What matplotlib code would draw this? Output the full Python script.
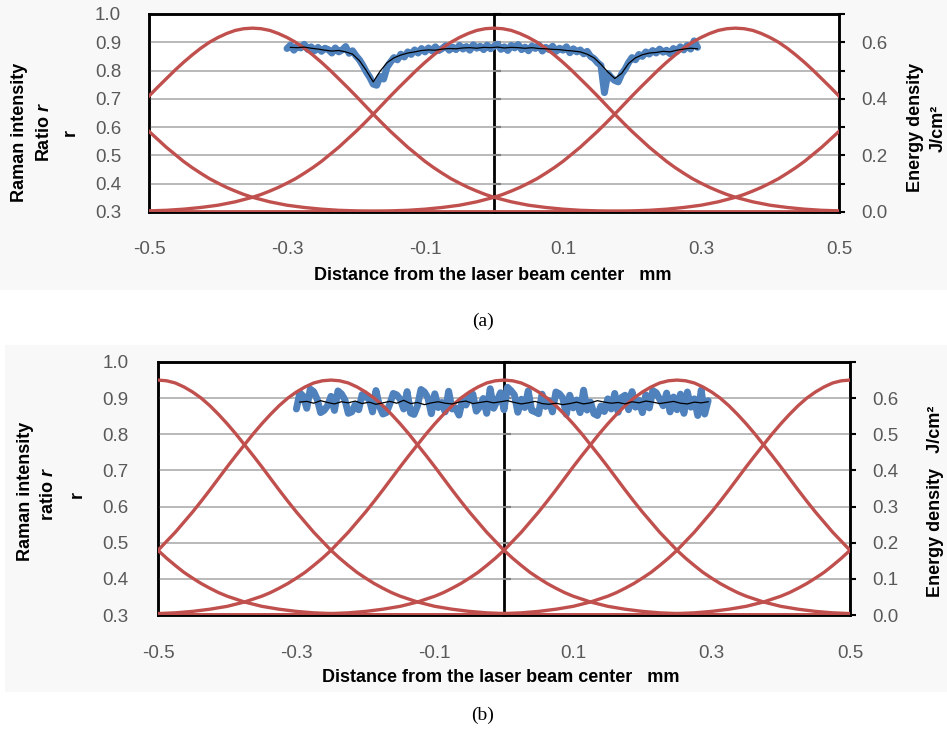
import numpy as np
import matplotlib
matplotlib.use("Agg")
import matplotlib.pyplot as plt
from matplotlib.patches import Rectangle

plt.rcParams['font.family'] = ['Liberation Sans', 'DejaVu Sans']
plt.rcParams['mathtext.fontset'] = 'custom'
plt.rcParams['mathtext.it'] = 'Liberation Sans:italic:bold'

W, H = 947, 736

# laser pulse profile (energy density J/cm2 vs distance from pulse centre, mm)
profile_dx = [0, 0.0125, 0.025, 0.0375, 0.05, 0.0625, 0.075, 0.0875, 0.1, 0.1125,
              0.125, 0.1375, 0.15, 0.1625, 0.175, 0.1875, 0.2, 0.2125, 0.225, 0.2375,
              0.25, 0.2625, 0.275, 0.2875, 0.3, 0.3125, 0.325, 0.3375, 0.35, 0.3625,
              0.375, 0.3875, 0.4, 0.425, 0.45, 0.475, 0.5, 0.55, 0.6, 0.8, 1.3]
profile_e = [0.650, 0.648, 0.642, 0.631, 0.617, 0.600, 0.579, 0.555, 0.529, 0.501,
             0.471, 0.441, 0.410, 0.378, 0.346, 0.315, 0.285, 0.257, 0.229, 0.204,
             0.179, 0.157, 0.137, 0.118, 0.102, 0.087, 0.074, 0.062, 0.052, 0.044,
             0.036, 0.030, 0.024, 0.016, 0.010, 0.006, 0.004, 0.0013, 0.0004, 0.0, 0.0]

centers_a = [-0.7, -0.35, 0.0, 0.35, 0.7]
centers_b = [-0.75, -0.5, -0.25, 0.0, 0.25, 0.5, 0.75]

# raman ratio, raw (blue) every 0.005 mm and averaged (black) every 0.01 mm
x_raw = np.round(np.arange(-0.300, 0.2951, 0.005), 3)
x_avg = np.round(np.arange(-0.295, 0.2951, 0.01), 3)

raw_a = [0.878, 0.890, 0.872, 0.886, 0.880, 0.893, 0.875, 0.884, 0.870, 0.882,
         0.868, 0.879, 0.874, 0.862, 0.880, 0.866, 0.873, 0.885, 0.861, 0.870,
         0.852, 0.838, 0.818, 0.795, 0.776, 0.752, 0.748, 0.779, 0.770, 0.812,
         0.830, 0.846, 0.838, 0.858, 0.848, 0.866, 0.857, 0.873, 0.862, 0.878,
         0.866, 0.880, 0.870, 0.884, 0.871, 0.878, 0.888, 0.872, 0.883, 0.874,
         0.889, 0.876, 0.885, 0.872, 0.891, 0.879, 0.886, 0.874, 0.890, 0.877,
         0.886, 0.893, 0.875, 0.884, 0.871, 0.889, 0.880, 0.892, 0.874, 0.883,
         0.870, 0.887, 0.878, 0.891, 0.869, 0.882, 0.874, 0.886, 0.868, 0.879,
         0.872, 0.884, 0.863, 0.877, 0.866, 0.873, 0.859, 0.868, 0.850, 0.842,
         0.828, 0.818, 0.722, 0.790, 0.775, 0.765, 0.760, 0.788, 0.805, 0.828,
         0.846, 0.838, 0.857, 0.850, 0.866, 0.858, 0.871, 0.862, 0.876, 0.865,
         0.872, 0.860, 0.878, 0.868, 0.884, 0.873, 0.889, 0.876, 0.905, 0.882]

avg_a = [0.882, 0.881, 0.883, 0.879, 0.876, 0.872, 0.869, 0.871, 0.866, 0.858,
         0.835, 0.800, 0.760, 0.798, 0.828, 0.845, 0.855, 0.862, 0.866, 0.871,
         0.873, 0.872, 0.876, 0.878, 0.877, 0.880, 0.881, 0.879, 0.882, 0.881,
         0.883, 0.880, 0.882, 0.881, 0.879, 0.881, 0.878, 0.877, 0.875, 0.874,
         0.871, 0.869, 0.866, 0.858, 0.845, 0.822, 0.795, 0.772, 0.790, 0.825,
         0.845, 0.856, 0.862, 0.864, 0.868, 0.866, 0.872, 0.876, 0.879, 0.877]

raw_b = [0.870, 0.915, 0.905, 0.872, 0.925, 0.918, 0.897, 0.860, 0.866, 0.879,
         0.905, 0.866, 0.920, 0.912, 0.896, 0.858, 0.862, 0.882, 0.868, 0.910,
         0.903, 0.899, 0.862, 0.921, 0.878, 0.856, 0.860, 0.884, 0.913, 0.909,
         0.897, 0.870, 0.918, 0.859, 0.855, 0.879, 0.924, 0.917, 0.901, 0.857,
         0.912, 0.874, 0.888, 0.862, 0.919, 0.870, 0.873, 0.853, 0.895, 0.881,
         0.907, 0.911, 0.864, 0.876, 0.899, 0.858, 0.926, 0.872, 0.893, 0.915,
         0.868, 0.930, 0.921, 0.909, 0.861, 0.897, 0.874, 0.920, 0.866, 0.862,
         0.857, 0.911, 0.877, 0.893, 0.862, 0.917, 0.912, 0.900, 0.855, 0.908,
         0.873, 0.895, 0.860, 0.922, 0.867, 0.889, 0.857, 0.852, 0.878, 0.863,
         0.898, 0.870, 0.913, 0.861, 0.902, 0.908, 0.868, 0.918, 0.875, 0.894,
         0.860, 0.909, 0.873, 0.921, 0.915, 0.897, 0.879, 0.914, 0.862, 0.903,
         0.868, 0.911, 0.858, 0.917, 0.875, 0.898, 0.852, 0.922, 0.856, 0.893]

avg_b = [0.889, 0.891, 0.886, 0.893, 0.888, 0.884, 0.890, 0.887, 0.892, 0.885,
         0.889, 0.883, 0.887, 0.891, 0.886, 0.894, 0.885, 0.888, 0.882, 0.887,
         0.890, 0.886, 0.884, 0.889, 0.892, 0.885, 0.888, 0.891, 0.887, 0.890,
         0.893, 0.888, 0.884, 0.887, 0.891, 0.885, 0.883, 0.886, 0.882, 0.885,
         0.889, 0.884, 0.887, 0.893, 0.889, 0.886, 0.888, 0.884, 0.890, 0.887,
         0.892, 0.889, 0.885, 0.888, 0.891, 0.886, 0.884, 0.889, 0.887, 0.890]

x_ticks = [-0.5, -0.3, -0.1, 0.1, 0.3, 0.5]
left_ticks = [0.3, 0.4, 0.5, 0.6, 0.7, 0.8, 0.9, 1.0]
right_ticks = [0.0, 0.1, 0.2, 0.3, 0.4, 0.5, 0.6, 0.7]
right_labels_a = ['0.0', '', '0.2', '', '0.4', '', '0.6', '']
right_labels_b = ['0.0', '0.1', '0.2', '0.3', '0.4', '0.5', '0.6', '']

BLUE = '#4F81BD'
RED = '#C0504D'
GREY = '#595959'

dx_full = np.concatenate([-np.array(profile_dx[::-1]), np.array(profile_dx[1:])])
e_full = np.concatenate([np.array(profile_e[::-1]), np.array(profile_e[1:])])


def fx(px):
    return px / W


def fy(py):
    return 1 - py / H


fig = plt.figure(figsize=(W / 100, H / 100), dpi=100)

# light chart-area backgrounds
fig.patches.append(Rectangle((fx(0), fy(290)), 1, 290 / H, transform=fig.transFigure,
                             facecolor='#F8F8F8', edgecolor='none', zorder=-5))
fig.patches.append(Rectangle((fx(5), fy(692)), 1, (692 - 345) / H, transform=fig.transFigure,
                             facecolor='#F8F8F8', edgecolor='none', zorder=-5))


def panel(left, top, right, bottom, raw, avg, centers, right_labels, lpad, rpad, xpad):
    ax = fig.add_axes([fx(left), fy(bottom), (right - left) / W, (bottom - top) / H])
    ax2 = ax.twinx()
    ax.set_zorder(ax2.get_zorder() + 1)
    ax.patch.set_visible(False)
    ax2.patch.set_visible(True)
    ax2.patch.set_facecolor('white')

    for c in centers:
        ax.plot(c + dx_full, e_full, color=RED, lw=2.4, transform=ax2.transData, zorder=3)
    ax.plot(x_raw, raw, color=BLUE, lw=5, zorder=2,
            solid_joinstyle='round', solid_capstyle='round')
    ax.plot(x_avg, avg, color='black', lw=0.9, zorder=4)

    ax.set_xlim(-0.5, 0.5)
    ax.set_ylim(0.3, 1.0)
    ax2.set_ylim(0, 0.7)

    ax.yaxis.grid(True, color='#A6A6A6', lw=1.1)
    ax.set_axisbelow(True)
    ax.set_xticks(x_ticks)
    ax.set_xticklabels(['%.1f' % v for v in x_ticks])
    ax.set_yticks(left_ticks)
    ax.set_yticklabels(['%.1f' % v for v in left_ticks])
    ax.tick_params(axis='x', length=0, pad=xpad, labelsize=13.5, labelcolor=GREY)
    ax.tick_params(axis='y', length=0, pad=lpad, labelsize=13.5, labelcolor=GREY)

    ax2.set_yticks(right_ticks)
    ax2.set_yticklabels(right_labels)
    ax2.tick_params(axis='y', direction='out', length=4, width=1.5, pad=rpad,
                    labelsize=13.5, labelcolor=GREY)

    # primary value axis crosses at x = 0, ticks only
    sec = ax.secondary_yaxis(0.5)
    sec.set_yticks(left_ticks, labels=[''] * len(left_ticks))
    sec.tick_params(direction='out', length=5, width=1.5,
                    labelleft=False, labelright=False)
    for s in sec.spines.values():
        s.set_linewidth(2)

    for a in (ax, ax2):
        for s in a.spines.values():
            s.set_linewidth(1.8)
            s.set_color('black')
    return ax


panel(149, 14, 839, 212, raw_a, avg_a, centers_a, right_labels_a, 20, 12, 21)
panel(158, 362, 850, 615, raw_b, avg_b, centers_b, right_labels_b, 21, 12, 21.5)

bold = dict(fontsize=13, fontweight='bold', ha='center', va='center')

# panel (a) labels
fig.text(fx(493), fy(276), 'Distance from the laser beam center   mm', **bold)
fig.text(fx(19), fy(132), 'Raman intensity', rotation=90, **bold)
fig.text(fx(44), fy(132), 'Ratio $r$', rotation=90, **bold)
fig.text(fx(70), fy(132), 'r', rotation=90, **bold)
fig.text(fx(915), fy(127), 'Energy density', rotation=90, **bold)
fig.text(fx(938), fy(128), 'J/cm²', rotation=90, **bold)
fig.text(fx(483), fy(321), '(a)', fontsize=14, family='Liberation Serif', ha='center', va='center')

# panel (b) labels
fig.text(fx(501), fy(677), 'Distance from the laser beam center   mm', **bold)
fig.text(fx(25), fy(491), 'Raman intensity', rotation=90, **bold)
fig.text(fx(48), fy(494), 'ratio $r$', rotation=90, **bold)
fig.text(fx(77), fy(494), 'r', rotation=90, **bold)
fig.text(fx(935), fy(501), 'Energy density   J/cm²', rotation=90, **bold)
fig.text(fx(483), fy(715), '(b)', fontsize=14, family='Liberation Serif', ha='center', va='center')

fig.savefig('out.png', dpi=100)
